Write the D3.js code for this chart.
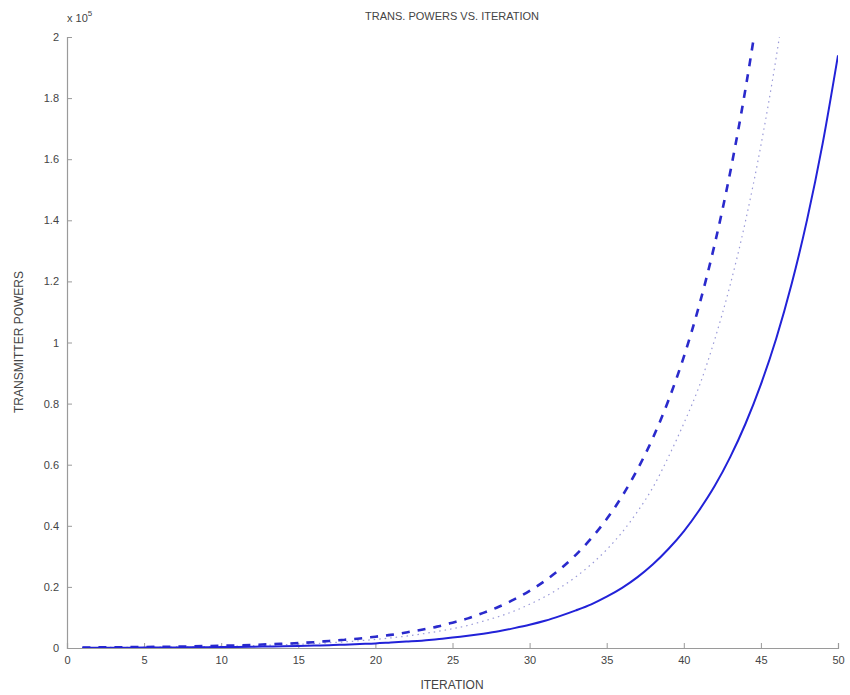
<!DOCTYPE html>
<html>
<head>
<meta charset="utf-8">
<script src="https://cdn.jsdelivr.net/npm/d3@7"></script>
<style>
  html, body { margin: 0; padding: 0; background: #fff; }
  text { font-family: "Liberation Sans", Arial, Helvetica, sans-serif; fill: #444; }
</style>
</head>
<body>
<svg id="chart" width="850" height="695"></svg>
<script>
const iterations = d3.range(1, 51);
const solidSeries = [0.0007,0.0008,0.0010,0.0011,0.0013,0.0016,0.0018,0.0021,0.0025,0.0030,
  0.0035,0.0041,0.0049,0.0057,0.0067,0.008,0.009,0.011,0.013,0.015,
  0.018,0.021,0.024,0.029,0.034,0.040,0.047,0.055,0.065,0.076,
  0.089,0.105,0.123,0.143,0.168,0.197,0.232,0.274,0.324,0.382,
  0.451,0.530,0.624,0.734,0.863,1.014,1.193,1.403,1.650,1.940];
const dashedSeries = [0.0017,0.0020,0.0023,0.0028,0.0032,0.0038,0.0045,0.0053,0.0062,0.0073,
  0.0086,0.010,0.012,0.014,0.016,0.019,0.023,0.027,0.031,0.037,
  0.043,0.051,0.060,0.070,0.083,0.097,0.115,0.135,0.159,0.187,
  0.220,0.259,0.305,0.359,0.422,0.497,0.585,0.688,0.810,0.953,
  1.122,1.321,1.555,1.830,2.153,2.534,2.98,3.51,4.13,4.86];
const dottedSeries = [0.0013,0.0015,0.0018,0.0021,0.0024,0.0029,0.0034,0.0040,0.0047,0.0055,
  0.0065,0.0076,0.0089,0.0105,0.0124,0.0146,0.017,0.020,0.024,0.028,
  0.033,0.039,0.046,0.054,0.063,0.074,0.088,0.103,0.121,0.143,
  0.168,0.198,0.233,0.274,0.322,0.379,0.447,0.526,0.625,0.735,
  0.857,1.009,1.187,1.397,1.645,1.936,2.28,2.68,3.16,3.71];
const xTicks = [0,5,10,15,20,25,30,35,40,45,50];
const yTicks = [0,0.2,0.4,0.6,0.8,1,1.2,1.4,1.6,1.8,2];
const yTickLabels = ["0","0.2","0.4","0.6","0.8","1","1.2","1.4","1.6","1.8","2"];

const svg = d3.select("#chart");
const L = 67, R = 838, T = 37, B = 648;
const x = d3.scaleLinear().domain([0, 50]).range([L, R]);
const y = d3.scaleLinear().domain([0, 2]).range([B, T]);

svg.append("defs").append("clipPath").attr("id", "clip")
  .append("rect").attr("x", L).attr("y", T).attr("width", R - L).attr("height", B - T);

// axes
const xAxis = d3.axisBottom(x).tickValues(xTicks).tickSize(-5).tickPadding(8).tickFormat(d3.format("d"));
const yAxis = d3.axisLeft(y).tickValues(yTicks).tickSize(-5).tickPadding(8).tickFormat((d, i) => yTickLabels[i]);

const gx = svg.append("g").attr("transform", `translate(0,${B})`).call(xAxis);
const gy = svg.append("g").attr("transform", `translate(${L},0)`).call(yAxis);
[gx, gy].forEach(g => {
  g.select(".domain").attr("stroke", "#9a9a9a").attr("stroke-width", 1.2);
  g.selectAll(".tick line").attr("stroke", "#9a9a9a");
  g.selectAll(".tick text").attr("font-size", 11).attr("fill", "#555")
    .style("font-family", "'Liberation Sans', Arial, sans-serif");
});

// lines
const line = d3.line().curve(d3.curveMonotoneX).x((d, i) => x(iterations[i])).y(d => y(d));
const plot = svg.append("g").attr("clip-path", "url(#clip)");
plot.append("path").datum(dottedSeries).attr("d", line)
  .attr("fill", "none").attr("stroke", "#9a9ad8").attr("stroke-width", 1.2)
  .attr("stroke-dasharray", "1.5,4");
plot.append("path").datum(dashedSeries).attr("d", line)
  .attr("fill", "none").attr("stroke", "#2a2acc").attr("stroke-width", 2.6)
  .attr("stroke-dasharray", "8,8");
plot.append("path").datum(solidSeries).attr("d", line)
  .attr("fill", "none").attr("stroke", "#2222d8").attr("stroke-width", 2);

// labels
svg.append("text").attr("x", 452).attr("y", 20).attr("text-anchor", "middle")
  .attr("font-size", 11).text("TRANS. POWERS VS. ITERATION");
svg.append("text").attr("x", 452).attr("y", 689).attr("text-anchor", "middle")
  .attr("font-size", 12).text("ITERATION");
svg.append("text").attr("transform", "translate(23,342) rotate(-90)").attr("text-anchor", "middle")
  .attr("font-size", 12).text("TRANSMITTER POWERS");
const ex = svg.append("text").attr("x", 67).attr("y", 22).attr("font-size", 11);
ex.append("tspan").text("x 10");
ex.append("tspan").attr("dy", -6).attr("font-size", 8).text("5");
</script>
</body>
</html>
